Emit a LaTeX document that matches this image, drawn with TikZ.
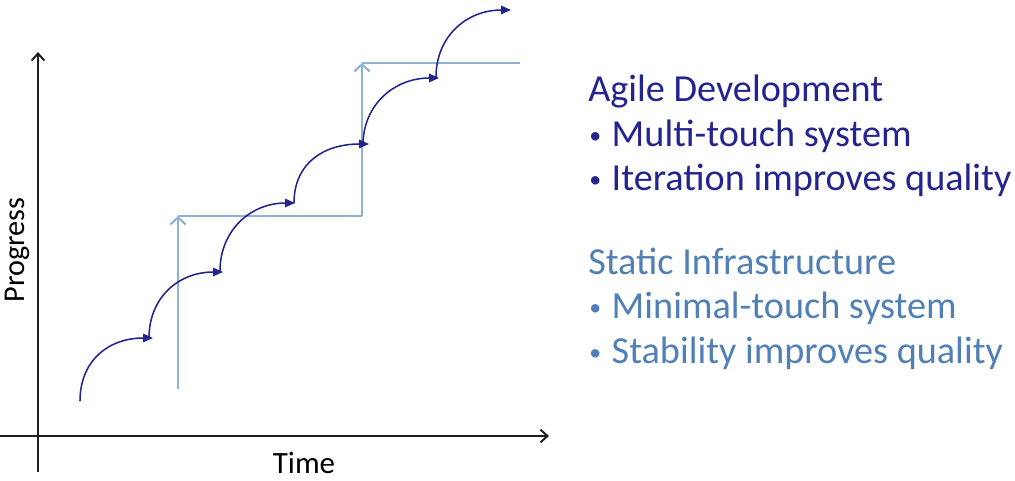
\documentclass[tikz,border=0pt]{standalone}
\usepackage{fontspec}
\setmainfont{Carlito}
\usetikzlibrary{arrows.meta}
\definecolor{agile}{RGB}{36,36,145}
\definecolor{static}{RGB}{80,128,182}
\definecolor{stepline}{RGB}{140,178,214}
\definecolor{axisgray}{RGB}{30,30,30}
\newcommand{\dotitem}{\raisebox{2pt}{\fontsize{17}{17}\selectfont\textbullet}\hspace{7.5pt}}
\begin{document}
\begin{tikzpicture}[x=0.025cm, y=-0.025cm,
    axis/.style={axisgray, line width=1.4pt, -{Straight Barb[length=5pt, width=9pt]}},
    iter/.style={agile, line width=1.1pt, -{Triangle[length=7pt, width=6pt]}},
    stair/.style={stepline, line width=1.5pt},
    agiletext/.style={agile, anchor=base west, inner sep=0pt, font=\fontsize{27.2}{32}\selectfont},
    statictext/.style={static, anchor=base west, inner sep=0pt, font=\fontsize{27.2}{32}\selectfont}]
    \useasboundingbox (0, 0) rectangle (1015, 481);
    % axes
    \draw[axis] (38, 472) -- (38, 52);
    \draw[axis] (0, 436) -- (549, 436);
    \node (time) at (304, 463) {\fontsize{22}{26}\selectfont Time};
    \node[rotate=90] (progress) at (17, 250) {\fontsize{21.5}{26}\selectfont Progress};
    % static infrastructure steps
    \coordinate (s0) at (178, 389);
    \coordinate (s1) at (178, 216);
    \coordinate (s2) at (362, 216);
    \coordinate (s3) at (362, 63);
    \coordinate (s4) at (520, 63);
    \draw[stair, -{Straight Barb[length=5pt, width=11pt]}] (s0) -- (s1);
    \draw[stair] (s1) -- (s2);
    \draw[stair, -{Straight Barb[length=5pt, width=11pt]}] (s2) -- (s3);
    \draw[stair] (s3) -- (s4);
    % agile iterations
    \foreach \i/\xa/\ya/\xb/\yb in {1/80/401/153/338, 2/149/338/223/272, 3/220/271/295/203,
                                    4/294/203/369/144, 5/363/145/439/78, 6/436/77/511/10}
    {
        \coordinate (a\i) at (\xa, \ya);
        \coordinate (b\i) at (\xb, \yb);
        \draw[iter] (a\i) .. controls (\xa, \ya - 40) and (\xb - 45, \yb) .. (b\i);
    }
    % legend
    \node[agiletext] (agile) at (588, 101) {Agile Development};
    \node[agiletext] (multi) at (589, 146) {\dotitem Multi-touch system};
    \node[agiletext] (iteration) at (589, 190) {\dotitem Iteration improves quality};
    \node[statictext] (static) at (588, 274) {Static Infrastructure};
    \node[statictext] (minimal) at (589, 318) {\dotitem Minimal-touch system};
    \node[statictext] (stability) at (589, 363) {\dotitem Stability improves quality};
\end{tikzpicture}
\end{document}
